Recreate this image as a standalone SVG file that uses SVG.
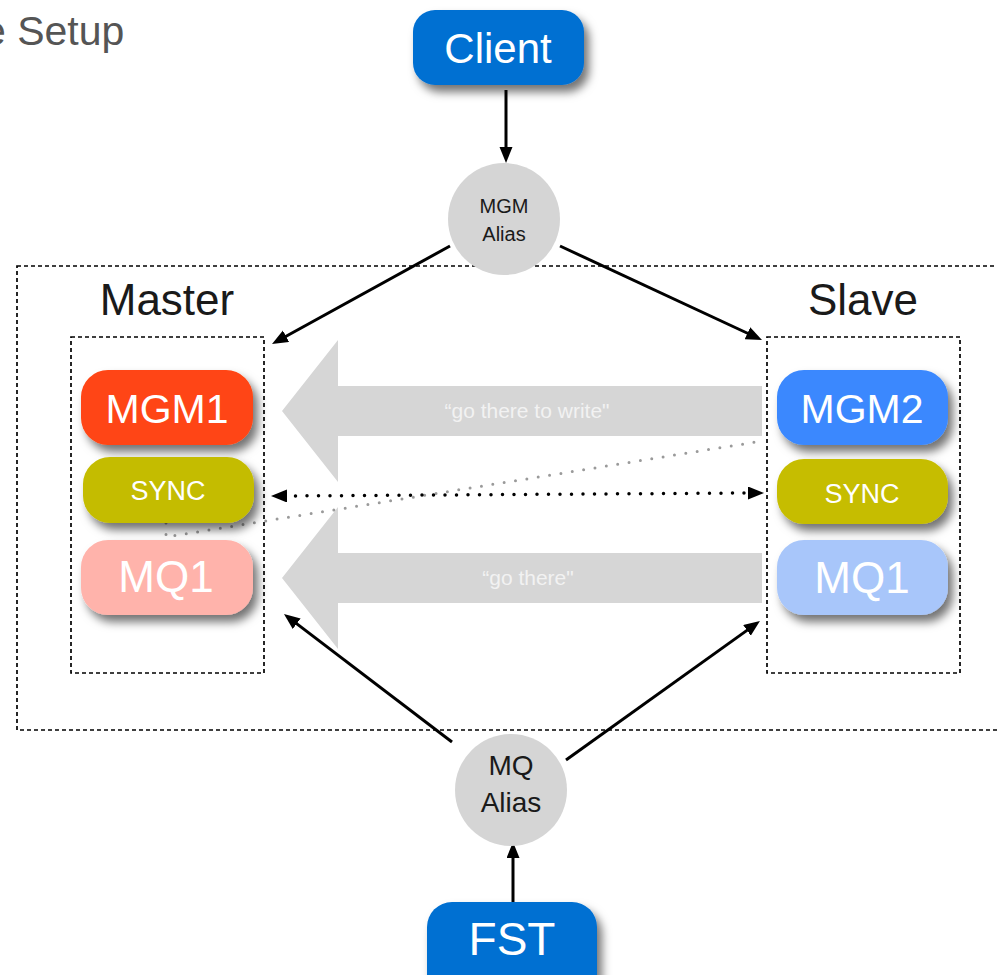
<svg xmlns="http://www.w3.org/2000/svg" width="997" height="975" viewBox="0 0 997 975">
<style>
.lbl{font-family:"Liberation Sans",Arial,sans-serif;fill:#fff;text-anchor:middle}
.dk{font-family:"Liberation Sans",Arial,sans-serif;fill:#1a1a1a;text-anchor:middle}
.dash{fill:none;stroke:#000;stroke-width:1.7;stroke-dasharray:4 3}
.conn{stroke:#000;stroke-width:3;fill:none}
.alias{fill:#d5d5d5}
.big{fill:#d6d6d6}
</style>
<defs>
<filter id="sh" x="-20%" y="-30%" width="150%" height="180%">
<feDropShadow dx="5" dy="7" stdDeviation="5" flood-color="#000" flood-opacity="0.55"/>
</filter>
<marker id="ah" markerUnits="userSpaceOnUse" markerWidth="18" markerHeight="14" refX="3" refY="6.5" orient="auto-start-reverse">
<path d="M0,0 L16,6.5 L0,13 z" fill="#000"/>
</marker>
</defs>

<text x="-17" y="45" font-family="'Liberation Sans',Arial,sans-serif" font-size="41" fill="#555">e Setup</text>

<rect class="dash" x="17" y="266" width="1000" height="464"/>
<text class="dk" x="167" y="315" font-size="44">Master</text>
<text class="dk" x="863" y="315" font-size="44">Slave</text>
<rect id="master" class="dash" x="71" y="337" width="193" height="336"/>
<rect id="slave" class="dash" x="767" y="337" width="193" height="336"/>

<g id="hint-write">
<polygon class="big" points="762,386 338,386 338,340 282,411 338,482 338,436 762,436"/>
<text x="527" y="418" font-family="'Liberation Sans',Arial,sans-serif" font-size="21" fill="#f2f2f2" text-anchor="middle">“go there to write"</text>
</g>
<g id="hint-mq">
<polygon class="big" points="762,553 338,553 338,507 282,578 338,649 338,603 762,603"/>
<text x="528" y="585" font-family="'Liberation Sans',Arial,sans-serif" font-size="21" fill="#f2f2f2" text-anchor="middle">“go there"</text>
</g>

<g id="connectors">
<path d="M166,523 L166,537 L762,441" fill="none" stroke="#9a9a9a" stroke-width="3" stroke-linecap="round" stroke-dasharray="0 11.5"/>
<line x1="284" y1="496" x2="751" y2="493" stroke="#000" stroke-width="3.5" stroke-linecap="round" stroke-dasharray="0 11.5" marker-start="url(#ah)" marker-end="url(#ah)"/>
<line class="conn" x1="506" y1="90" x2="506" y2="150" marker-end="url(#ah)"/>
<line class="conn" x1="450" y1="246" x2="283.4" y2="337.7" marker-end="url(#ah)"/>
<line class="conn" x1="560" y1="246" x2="750.2" y2="334.5" marker-end="url(#ah)"/>
<line class="conn" x1="452" y1="742" x2="294.3" y2="621.9" marker-end="url(#ah)"/>
<line class="conn" x1="566" y1="760" x2="749.4" y2="628.6" marker-end="url(#ah)"/>
<line class="conn" x1="513" y1="902" x2="513" y2="855" marker-end="url(#ah)"/>
</g>

<g id="client">
<rect x="413" y="10" width="171" height="75" rx="22" fill="#0070d2" filter="url(#sh)"/>
<text class="lbl" x="498" y="63" font-size="42">Client</text>
</g>
<g id="mgm-alias">
<circle class="alias" cx="504" cy="219" r="56"/>
<text class="dk" x="504" y="213" font-size="20">MGM</text>
<text class="dk" x="504" y="241" font-size="20">Alias</text>
</g>
<g id="mgm1">
<rect x="81" y="370" width="172" height="75" rx="27" fill="#ff4512" filter="url(#sh)"/>
<text class="lbl" x="167" y="423" font-size="41">MGM1</text>
</g>
<g id="sync-master">
<rect x="83" y="457" width="171" height="66" rx="27" fill="#c4bc00" filter="url(#sh)"/>
<text class="lbl" x="168" y="500" font-size="27">SYNC</text>
</g>
<g id="mq1-master">
<rect x="81" y="540" width="172" height="75" rx="27" fill="#ffb3ab" filter="url(#sh)"/>
<text class="lbl" x="166" y="592" font-size="44">MQ1</text>
</g>
<g id="mgm2">
<rect x="777" y="370" width="171" height="75" rx="27" fill="#3a88fe" filter="url(#sh)"/>
<text class="lbl" x="862" y="423" font-size="41">MGM2</text>
</g>
<g id="sync-slave">
<rect x="777" y="459" width="171" height="65" rx="27" fill="#c6bd00" filter="url(#sh)"/>
<text class="lbl" x="862" y="503" font-size="27">SYNC</text>
</g>
<g id="mq1-slave">
<rect x="777" y="540" width="171" height="75" rx="27" fill="#a8c6fa" filter="url(#sh)"/>
<text class="lbl" x="862" y="593" font-size="44">MQ1</text>
</g>
<g id="mq-alias">
<circle class="alias" cx="511" cy="790" r="56"/>
<text class="dk" x="511" y="775" font-size="28">MQ</text>
<text class="dk" x="511" y="812" font-size="28">Alias</text>
</g>
<g id="fst">
<rect x="427" y="902" width="170" height="100" rx="25" fill="#0070d2" filter="url(#sh)"/>
<text class="lbl" x="512" y="955" font-size="46">FST</text>
</g>
</svg>
